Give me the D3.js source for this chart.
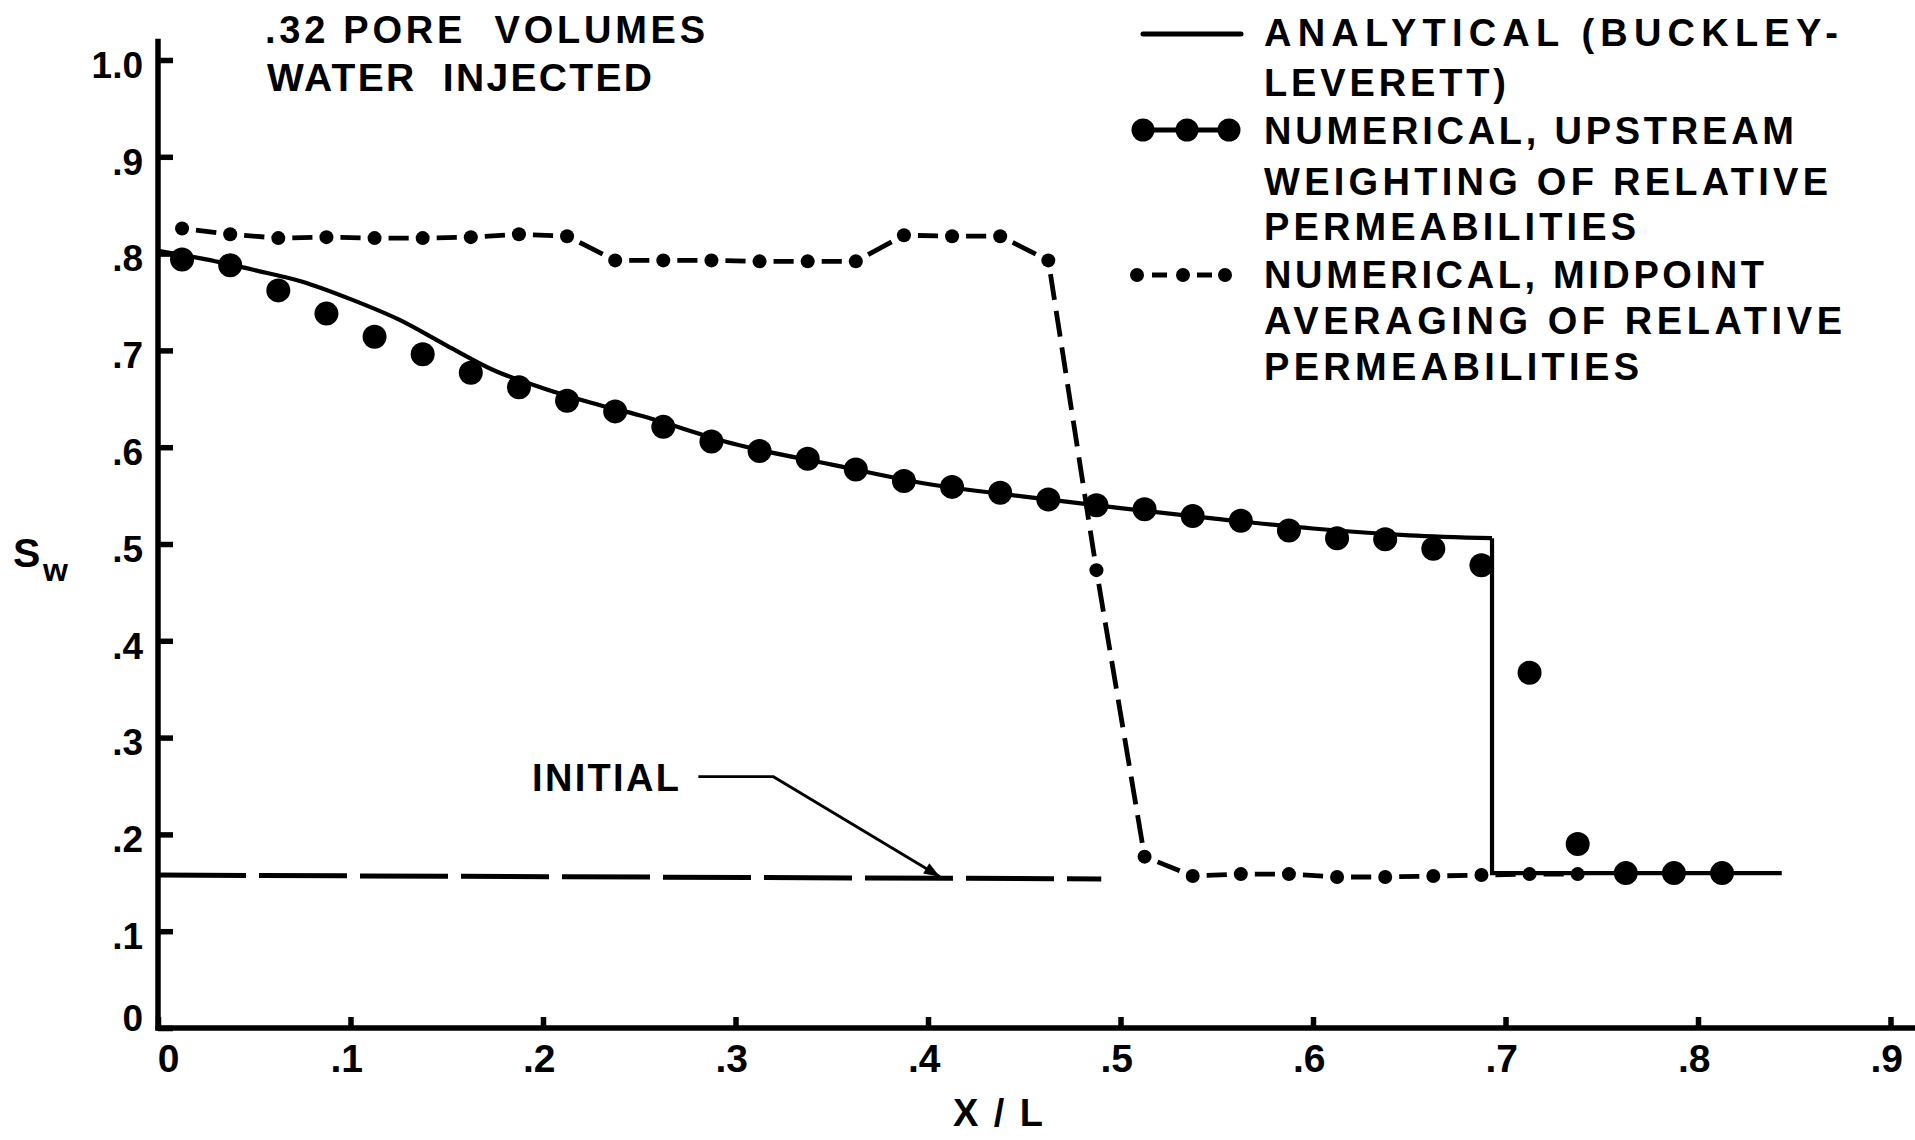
<!DOCTYPE html>
<html>
<head>
<meta charset="utf-8">
<script src="https://cdn.jsdelivr.net/npm/d3@7"></script>
<style>
body { margin: 0; background: #fff; }
text { font-family: "Liberation Sans", Arial, sans-serif; font-weight: bold; fill: #000; white-space: pre; }
</style>
</head>
<body>
<div id="chart"></div>
<script>
// block centres (X/L) of the numerical runs
var blockX = [0.0125, 0.0375, 0.0625, 0.0875, 0.1125, 0.1375, 0.1625, 0.1875, 0.2125, 0.2375,
              0.2625, 0.2875, 0.3125, 0.3375, 0.3625, 0.3875, 0.4125, 0.4375, 0.4625, 0.4875,
              0.5125, 0.5375, 0.5625, 0.5875, 0.6125, 0.6375, 0.6625, 0.6875, 0.7125, 0.7375,
              0.7625, 0.7875, 0.8125];

// numerical, upstream weighting (big dots)
var upstreamSw = [0.794, 0.788, 0.762, 0.738, 0.714, 0.696, 0.677, 0.662, 0.648, 0.637,
                  0.621, 0.606, 0.596, 0.588, 0.577, 0.565, 0.559, 0.553, 0.546, 0.540,
                  0.536, 0.529, 0.524, 0.514, 0.506, 0.505, 0.495, 0.478, 0.367, 0.190,
                  0.160, 0.160, 0.160];

// numerical, midpoint averaging (small dots), first 30 blocks visible
var midpointSw = [0.826, 0.820, 0.816, 0.817, 0.816, 0.816, 0.817, 0.820, 0.818, 0.793,
                  0.793, 0.793, 0.792, 0.792, 0.792, 0.819, 0.818, 0.818, 0.793, 0.473,
                  0.177, 0.157, 0.159, 0.159, 0.156, 0.156, 0.157, 0.158, 0.159, 0.159];

// analytical Buckley-Leverett
var analyticalX  = [0, 0.025, 0.05, 0.075, 0.1, 0.125, 0.15, 0.175, 0.2, 0.225,
                    0.25, 0.3, 0.35, 0.4, 0.45, 0.5, 0.55, 0.6, 0.65, 0.693];
var analyticalSw = [0.803, 0.794, 0.783, 0.771, 0.753, 0.732, 0.705, 0.679, 0.661, 0.646,
                    0.633, 0.603, 0.582, 0.562, 0.549, 0.537, 0.526, 0.516, 0.509, 0.506];
var frontX  = [0.693, 0.693, 0.8435];
var frontSw = [0.506, 0.160, 0.160];

// initial saturation
var initialX  = [0, 0.49];
var initialSw = [0.158, 0.154];

var xTicks = [0, 0.1, 0.2, 0.3, 0.4, 0.5, 0.6, 0.7, 0.8, 0.9];
var xTickLabels = ["0", ".1", ".2", ".3", ".4", ".5", ".6", ".7", ".8", ".9"];
var yTicks = [0, 0.1, 0.2, 0.3, 0.4, 0.5, 0.6, 0.7, 0.8, 0.9, 1.0];
var yTickLabels = ["0", ".1", ".2", ".3", ".4", ".5", ".6", ".7", ".8", ".9", "1.0"];

var width = 1915, height = 1140;

var svg = d3.select("#chart")
            .append("svg")
            .attr("width", width)
            .attr("height", height)

var x = d3.scaleLinear().domain([0, 0.9]).range([158, 1890.5]);
var y = d3.scaleLinear().domain([0, 1]).range([1028, 60]);

var line = d3.line().x((d) => x(d[0])).y((d) => y(d[1]));

// axes
var xAxis = svg.append("g")
    .attr("transform", "translate(0," + y(0) + ")")
    .call(d3.axisBottom(x).tickValues(xTicks)
          .tickFormat((d, i) => xTickLabels[i])
          .tickSize(-11).tickPadding(16));
xAxis.select(".domain").remove();
xAxis.selectAll(".tick line").attr("stroke", "#000").attr("stroke-width", 5.5);
xAxis.selectAll(".tick text")
    .style("font-size", "39px")
    .attr("text-anchor", (d, i) => i == 0 ? "middle" : "end")
    .attr("dx", (d, i) => i == 0 ? 10 : 12);

var yAxis = svg.append("g")
    .attr("transform", "translate(" + x(0) + ",0)")
    .call(d3.axisLeft(y).tickValues(yTicks)
          .tickFormat((d, i) => yTickLabels[i])
          .tickSize(-15).tickPadding(15));
yAxis.select(".domain").remove();
yAxis.selectAll(".tick line").attr("stroke", "#000").attr("stroke-width", 5.5);
yAxis.selectAll(".tick text")
    .style("font-size", "37px")
    .attr("dy", (d, i) => i == 0 ? "0.06em" : "0.47em");

svg.append("line")
    .attr("x1", x(0)).attr("x2", x(0))
    .attr("y1", y(0) + 2.5).attr("y2", y(1.022))
    .attr("stroke", "#000").attr("stroke-width", 5.5);
svg.append("line")
    .attr("x1", x(0) - 2.5).attr("x2", width)
    .attr("y1", y(0)).attr("y2", y(0))
    .attr("stroke", "#000").attr("stroke-width", 5.5);

// initial line
svg.append("path")
    .attr("d", line(d3.zip(initialX, initialSw)))
    .attr("fill", "none").attr("stroke", "#000")
    .attr("stroke-width", 5).attr("stroke-dasharray", "88,13");

// analytical
svg.append("path")
    .attr("d", line.curve(d3.curveMonotoneX)(d3.zip(analyticalX, analyticalSw)))
    .attr("fill", "none").attr("stroke", "#000").attr("stroke-width", 4.2);
line.curve(d3.curveLinear);
svg.append("path")
    .attr("d", line(d3.zip(frontX, frontSw)))
    .attr("fill", "none").attr("stroke", "#000").attr("stroke-width", 4.2);

// midpoint: one dashed segment between each pair of dots
var rSmall = 7, rBig = 12;
var midPts = midpointSw.map((v, i) => [blockX[i], v]);
for (var i = 0; i < midPts.length - 1; i++) {
    var p0 = midPts[i], p1 = midPts[i + 1];
    var L = Math.hypot(x(p1[0]) - x(p0[0]), y(p1[1]) - y(p0[1]));
    var m = 14, g = 11, d = 28;
    var A = L - 2 * m;
    if (A <= 0) continue;
    var n = Math.max(1, Math.round((A + g) / (d + g)));
    var dash = (A - (n - 1) * g) / n;
    var arr = [0, m];
    for (var k = 0; k < n; k++) { arr.push(dash); arr.push(k < n - 1 ? g : L); }
    svg.append("path")
        .attr("d", line([p0, p1]))
        .attr("fill", "none").attr("stroke", "#000")
        .attr("stroke-width", 4.8).attr("stroke-dasharray", arr.join(","));
}
svg.append("g").selectAll("circle")
    .data(midPts).enter()
    .append("circle")
    .attr("cx", (d) => x(d[0])).attr("cy", (d) => y(d[1]))
    .attr("r", rSmall).attr("fill", "#000");

// upstream dots
svg.append("g").selectAll("circle")
    .data(upstreamSw.map((v, i) => [blockX[i], v])).enter()
    .append("circle")
    .attr("cx", (d) => x(d[0])).attr("cy", (d) => y(d[1]))
    .attr("r", rBig).attr("fill", "#000");

// INITIAL label with leader
svg.append("text").attr("x", 532).attr("y", 791)
    .style("font-size", "38px").attr("textLength", 147).attr("lengthAdjust", "spacing")
    .text("INITIAL");
var leader = [[0.2807, 0.2596], [0.3197, 0.2596], [0.4062, 0.1563]];
svg.append("path").attr("d", line(leader))
    .attr("fill", "none").attr("stroke", "#000").attr("stroke-width", 2.8);
var tip = [x(leader[2][0]), y(leader[2][1])], bk = [x(leader[1][0]), y(leader[1][1])];
var ang = Math.atan2(tip[1] - bk[1], tip[0] - bk[0]);
var al = 16, aw = 6;
var bx = tip[0] - al * Math.cos(ang), by = tip[1] - al * Math.sin(ang);
svg.append("path")
    .attr("d", "M" + tip[0] + "," + tip[1] +
               "L" + (bx - aw * Math.sin(ang)) + "," + (by + aw * Math.cos(ang)) +
               "L" + (bx + aw * Math.sin(ang)) + "," + (by - aw * Math.cos(ang)) + "Z")
    .attr("fill", "#000");

// title
svg.append("text").attr("x", 265).attr("y", 43)
    .style("font-size", "38px").attr("textLength", 440).attr("lengthAdjust", "spacing")
    .text(".32 PORE  VOLUMES");
svg.append("text").attr("x", 267).attr("y", 91)
    .style("font-size", "39px").attr("textLength", 385).attr("lengthAdjust", "spacing")
    .text("WATER  INJECTED");

// axis titles
svg.append("text").attr("x", 13).attr("y", 567).style("font-size", "41px").text("S");
svg.append("text").attr("x", 43).attr("y", 581).style("font-size", "32px").text("w");
svg.append("text").attr("x", 953).attr("y", 1126)
    .style("font-size", "38px").attr("textLength", 90).attr("lengthAdjust", "spacing")
    .text("X/L");

// legend
var legendLines = [
    {t: "ANALYTICAL (BUCKLEY-", cy: 32, w: 574},
    {t: "LEVERETT)", cy: 82, w: 242},
    {t: "NUMERICAL, UPSTREAM", cy: 130, w: 530},
    {t: "WEIGHTING OF RELATIVE", cy: 181, w: 564},
    {t: "PERMEABILITIES", cy: 226, w: 372},
    {t: "NUMERICAL, MIDPOINT", cy: 274, w: 500},
    {t: "AVERAGING OF RELATIVE", cy: 320, w: 578},
    {t: "PERMEABILITIES", cy: 366, w: 375}
];
svg.append("g").selectAll("text")
    .data(legendLines).enter()
    .append("text")
    .attr("x", 1264).attr("y", (d) => d.cy + 13.6)
    .style("font-size", "38px")
    .attr("textLength", (d) => d.w).attr("lengthAdjust", "spacing")
    .text((d) => d.t);

svg.append("line").attr("x1", 1143).attr("x2", 1241).attr("y1", 34).attr("y2", 34)
    .attr("stroke", "#000").attr("stroke-width", 5).attr("stroke-linecap", "round");
svg.append("line").attr("x1", 1143).attr("x2", 1229).attr("y1", 130).attr("y2", 130)
    .attr("stroke", "#000").attr("stroke-width", 5);
svg.append("g").selectAll("circle")
    .data([1143, 1187, 1229]).enter()
    .append("circle").attr("cx", (d) => d).attr("cy", 130).attr("r", 11.5).attr("fill", "#000");
svg.append("g").selectAll("circle")
    .data([1137, 1183, 1225]).enter()
    .append("circle").attr("cx", (d) => d).attr("cy", 275).attr("r", 7).attr("fill", "#000");
svg.append("g").selectAll("line")
    .data([1152, 1197]).enter()
    .append("line").attr("x1", (d) => d).attr("x2", (d) => d + 15)
    .attr("y1", 275).attr("y2", 275)
    .attr("stroke", "#000").attr("stroke-width", 5);
</script>
</body>
</html>
